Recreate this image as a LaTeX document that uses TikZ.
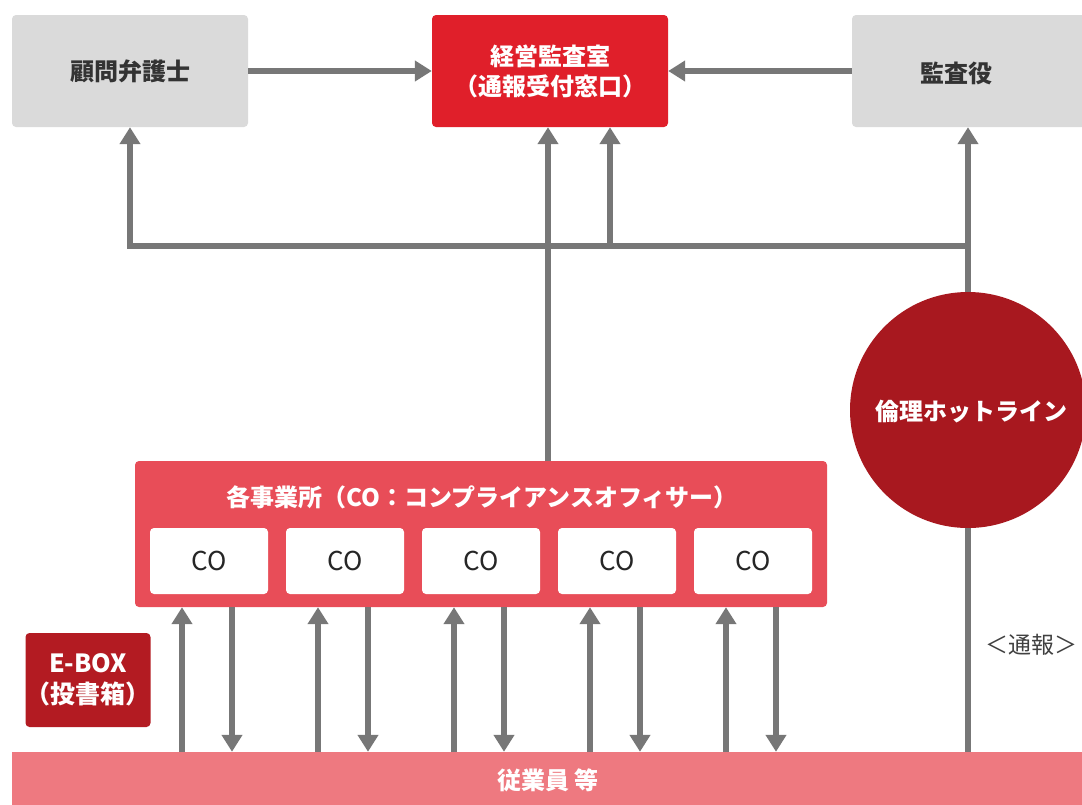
\documentclass[tikz,border=0pt]{standalone}
\usepackage{fontspec}
\setmainfont{Noto Sans CJK JP}
\usetikzlibrary{arrows.meta}
\definecolor{boxgray}{HTML}{DADADA}
\definecolor{hdred}{HTML}{E01F2A}
\definecolor{cirred}{HTML}{A8181F}
\definecolor{offred}{HTML}{E84D58}
\definecolor{emppink}{HTML}{EE7980}
\definecolor{eboxred}{HTML}{B31B22}
\definecolor{conn}{HTML}{777777}
\definecolor{txtdark}{HTML}{333333}
\begin{document}
\begin{tikzpicture}[x=1pt,y=-1pt,
  box/.style={rectangle,rounded corners=4pt,inner sep=0pt,align=center,font=\fontsize{24}{30}\selectfont\bfseries},
  graybox/.style={box,fill=boxgray,text=txtdark,minimum width=236pt,minimum height=112pt},
  redbox/.style={box,fill=hdred,text=white,minimum width=236pt,minimum height=112pt,font=\fontsize{24}{30}\selectfont\bfseries},
  cobox/.style={rectangle,rounded corners=4pt,fill=white,minimum width=118pt,minimum height=66pt,inner sep=0pt,text=black!85,font=\fontsize{26}{28}\selectfont},
  lbl/.style={inner sep=0pt,font=\fontsize{24}{28}\selectfont\bfseries},
  link/.style={draw=conn,line width=5.5pt,line join=miter},
  arr/.style={link,-{Triangle[width=20pt,length=17pt]}}
]
\useasboundingbox (0,0) rectangle (1082,804);

% top row
\node[graybox] (lawyer) at (130,71) {顧問弁護士};
\node[redbox] (hq) at (550,71) {経営監査室\\（通報受付窓口）};
\node[graybox] (auditor) at (970,71) {};
\node[lbl,text=txtdark] (auditorlbl) at (956,73) {監査役};

% hotline circle
\node[circle,fill=cirred,minimum size=236pt,inner sep=0pt] (hot) at (968,410) {};
\node[lbl,text=white] (hotlbl) at (971,412) {倫理ホットライン};

% offices
\node[rectangle,rounded corners=4pt,fill=offred,minimum width=692pt,minimum height=146pt,inner sep=0pt] (office) at (481,534) {};
\node[lbl,text=white,font=\fontsize{24}{28}\selectfont\bfseries] (officelbl) at (482,497) {各事業所（CO：コンプライアンスオフィサー）};
\foreach \i/\x in {1/209,2/345,3/481,4/617,5/753}
  \node[cobox] (co\i) at (\x,561) {CO};

% employees
\node[rectangle,fill=emppink,minimum width=1078pt,minimum height=58pt,inner sep=0pt] (emp) at (551,781) {};
\node[lbl,text=white] (emplbl) at (548,780) {従業員 等};

% E-BOX
\node[box,fill=eboxred,text=white,minimum width=123pt,minimum height=94pt,font=\fontsize{25}{31}\selectfont\bfseries] (ebox) at (88,680) {E-BOX\\（投書箱）};

% label
\node[inner sep=0pt,text=black!75,font=\fontsize{23}{26}\selectfont] (report) at (1031,645) {＜通報＞};

% horizontal connectors at top
\draw[arr] (lawyer.east) -- (hq.west);
\draw[arr] (auditor.west) -- (hq.east);

% collector line
\coordinate (j2) at (610,246);
\coordinate (jR) at (968,246);
\coordinate (o1) at (548,461);
\draw[arr] (jR) -- (jR -| lawyer.south) -- (lawyer.south);
\draw[arr] (o1) -- (o1 |- hq.south);
\draw[arr] (j2) -- (j2 |- hq.south);
\draw[arr] (hot.north) -- (hot.north |- auditor.south);
\draw[link] (hot.south) -- (hot.south |- emp.north);

% CO <-> employees
\foreach \i in {1,...,5}{
  \draw[arr] ([xshift=-27pt]co\i.south |- emp.north) -- ([xshift=-27pt]co\i.south |- office.south);
  \draw[arr] ([xshift=23pt]co\i.south |- office.south) -- ([xshift=23pt]co\i.south |- emp.north);
}
\end{tikzpicture}
\end{document}
